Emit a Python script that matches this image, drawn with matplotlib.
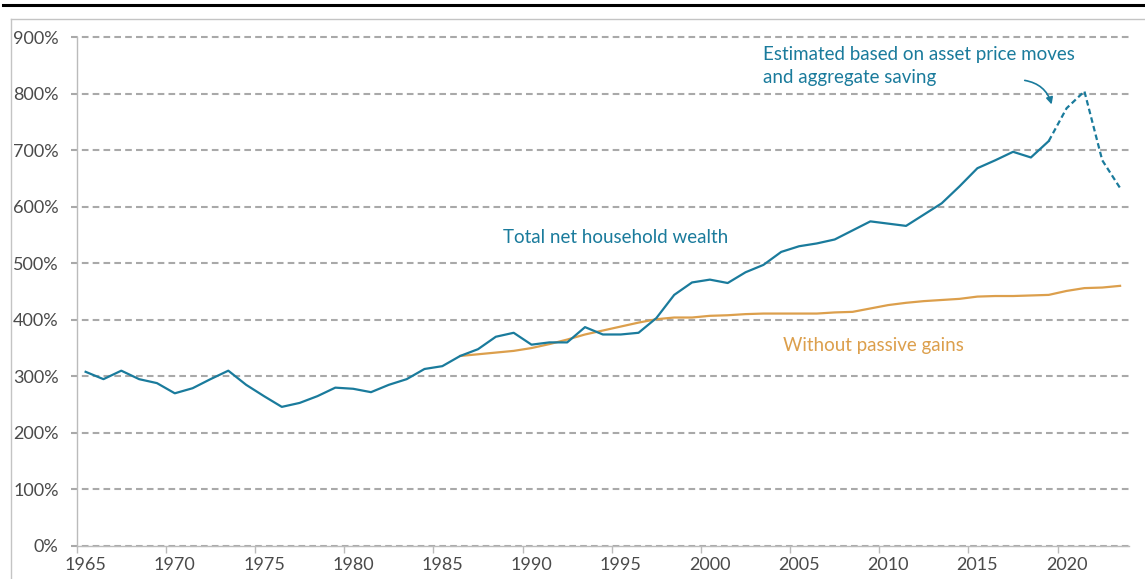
import matplotlib.pyplot as plt
from matplotlib.lines import Line2D

years = list(range(1965, 2024))
total_wealth = [308, 295, 310, 295, 288, 270, 279, 295, 310, 285, 265, 246, 253, 265, 280,
                278, 272, 285, 295, 313, 318, 336, 348, 370, 377, 356, 360, 360, 387, 374,
                374, 377, 403, 444, 466, 471, 465, 484, 497, 520, 530, 535, 542, 558, 574,
                570, 566, 586, 606, 636, 668, 682, 697, 687, 716, 774, 804, 682, 633]
passive_years = list(range(1986, 2024))
without_passive = [336, 339, 342, 345, 350, 357, 365, 374, 381, 388, 395, 401, 404, 404,
                   407, 408, 410, 411, 411, 411, 411, 413, 414, 420, 426, 430, 433, 435,
                   437, 441, 442, 442, 443, 444, 451, 456, 457, 460]
estimate_from = 2019

x_ticks = list(range(1965, 2025, 5))
y_ticks = list(range(0, 1000, 100))

BLUE = "#1a7b9c"
ORANGE = "#dc9f4c"
GRID = "#a9a9a9"
TEXT = "#4a4a4a"

plt.rcParams["font.family"] = ["Lato", "DejaVu Sans"]

fig = plt.figure(figsize=(11.45, 5.79), dpi=100)
ax = fig.add_axes([76.7 / 1145, 1 - 546 / 579, (1129 - 76.7) / 1145, (546 - 37) / 579])

# annual values plotted at mid-year
xs = [y + 0.5 for y in years]
px = [y + 0.5 for y in passive_years]
cut = years.index(estimate_from)

for v in y_ticks:
    ax.axhline(v, xmin=-0.0057, xmax=1, color=GRID, lw=1.5,
               linestyle=(0, (3.2, 2.0)), clip_on=False, zorder=1)

ax.plot(px, without_passive, color=ORANGE, lw=1.6, zorder=3)
ax.plot(xs[:cut + 1], total_wealth[:cut + 1], color=BLUE, lw=1.6, zorder=4)
ax.plot(xs[cut:], total_wealth[cut:], color=BLUE, lw=1.6, linestyle=(0, (2.5, 1.5)), zorder=4)

ax.set_xlim(1965, 2024)
ax.set_ylim(0, 900)

ax.set_yticks(y_ticks)
ax.set_yticklabels([f"{v}%" for v in y_ticks])
ax.tick_params(axis="y", length=0, pad=13, labelsize=13, labelcolor=TEXT)

ax.set_xticks(x_ticks)
ax.set_xticklabels([])
ax.set_xticks([x + 0.5 for x in x_ticks], minor=True)
ax.set_xticklabels([str(x) for x in x_ticks], minor=True)
ax.tick_params(axis="x", which="major", length=5, color="#bbbbbb", width=1)
ax.tick_params(axis="x", which="minor", length=0, pad=8, labelsize=13, labelcolor=TEXT)

for s in ["top", "right"]:
    ax.spines[s].set_visible(False)
for s in ["left", "bottom"]:
    ax.spines[s].set_color("#bbbbbb")
    ax.spines[s].set_linewidth(1)

ax.text(1988.9, 546, "Total net household wealth", color=BLUE, fontsize=13.5, va="center")
ax.text(2004.6, 355, "Without passive gains", color=ORANGE, fontsize=13.5, va="center")
ax.text(2003.5, 884, "Estimated based on asset price moves\nand aggregate saving",
        color=BLUE, fontsize=13.5, va="top", linespacing=1.45)
ax.annotate("", xy=(2019.7, 776), xytext=(2018.0, 824),
            arrowprops=dict(arrowstyle="-|>", color=BLUE, lw=1.2,
                            connectionstyle="arc3,rad=-0.35", mutation_scale=10))

# page decorations: thick top rule and light frame
fig.add_artist(Line2D([3 / 1145, 1], [1 - 4.5 / 579] * 2, color="black", lw=2.2))
fig.add_artist(Line2D([11 / 1145, 1], [1 - 19 / 579] * 2, color="#c4c4c4", lw=1))
fig.add_artist(Line2D([11 / 1145] * 2, [0, 1 - 19 / 579], color="#c4c4c4", lw=1))

fig.savefig("out.png", dpi=100, facecolor="white")
